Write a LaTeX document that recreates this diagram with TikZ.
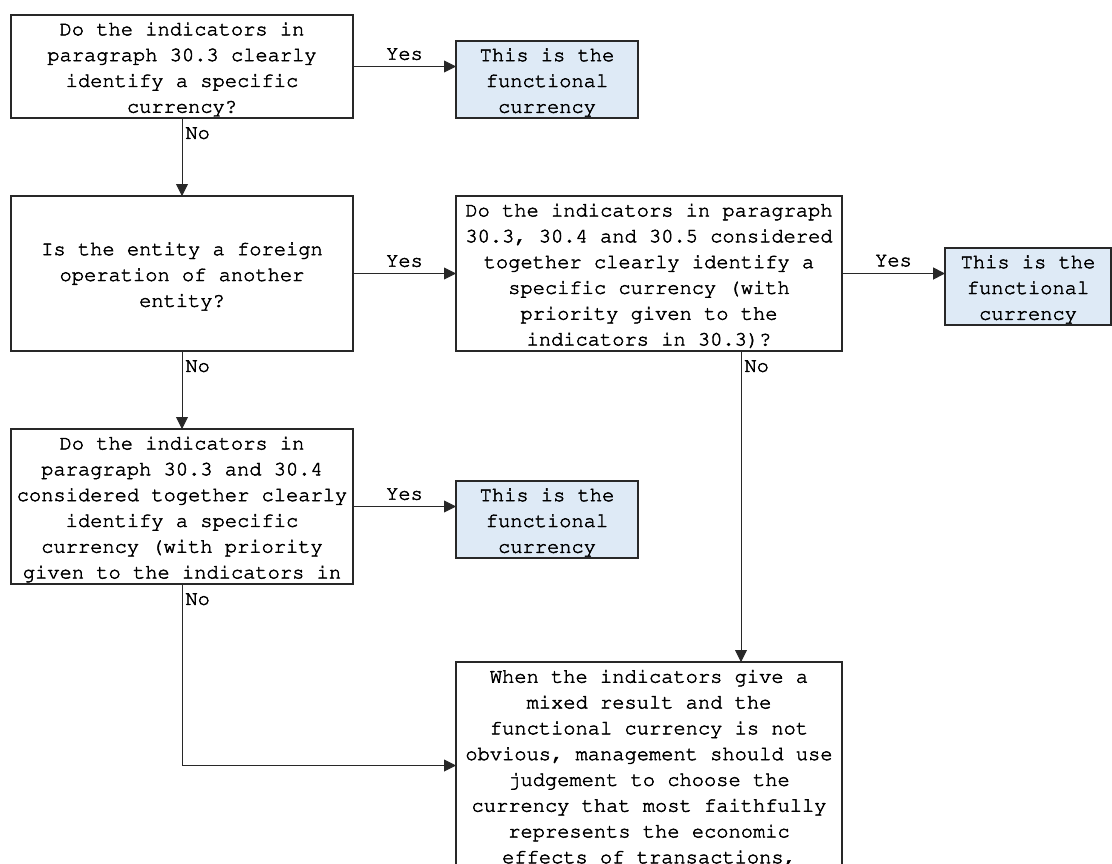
\documentclass[tikz,border=0pt]{standalone}
\usepackage[T1]{fontenc}
\usepackage{courier}
\usetikzlibrary{arrows.meta,calc}
\definecolor{lblue}{RGB}{222,234,246}
\definecolor{edge}{RGB}{40,40,40}
\newcommand{\tb}{\rule{0pt}{19pt}}
\newcommand{\bb}{\rule[-4pt]{0pt}{4pt}}
\newcommand{\emb}[1]{\special{pdf:literal direct 2 Tr 0.45 w}#1\special{pdf:literal direct 0 Tr}}
\begin{document}
\begin{tikzpicture}[x=1pt,y=-1pt,
  box/.style={draw=edge, line width=1.1pt, inner sep=0pt, outer sep=0pt, align=center,
    font=\ttfamily\fontsize{20.4pt}{25.8pt}\selectfont, anchor=north west, text=black},
  ans/.style={box, fill=lblue},
  conn/.style={draw=edge, line width=0.9pt, -{Triangle[length=12pt,width=12pt]}},
  lab/.style={font=\ttfamily\fontsize{20.4pt}{22pt}\selectfont, inner sep=1pt, text=black},
  yeslab/.style={lab, midway, anchor=south, yshift=5pt},
  nolab/.style={lab, pos=0, anchor=north west, xshift=2pt, yshift=-8pt}]
\useasboundingbox (0,0) rectangle (1112,863);
\clip (0,0) rectangle (1112,863);
\fill[white] (0,0) rectangle (1112,863);

\node[box, minimum width=342pt, minimum height=103pt] (q1) at (11,15)
  {\emb{\tb Do the indicators in}\\\emb{paragraph 30.3 clearly}\\\emb{identify a specific}\\\emb{currency?\bb}};
\node[ans, minimum width=182pt, minimum height=77pt] (a1) at (456,41)
  {\emb{\tb This is the}\\\emb{functional}\\\emb{currency\bb}};
\node[box, minimum width=342pt, minimum height=155pt] (q2) at (11,196)
  {\emb{\tb Is the entity a foreign}\\\emb{operation of another}\\\emb{entity?\bb}};
\node[box, minimum width=386pt, minimum height=155pt] (q3) at (456,196)
  {\emb{\tb Do the indicators in paragraph}\\\emb{30.3, 30.4 and 30.5 considered}\\\emb{together clearly identify a}\\\emb{specific currency (with}\\\emb{priority given to the}\\\emb{indicators in 30.3)?\bb}};
\node[ans, minimum width=166pt, minimum height=77pt] (a2) at (945,248)
  {\emb{\tb This is the}\\\emb{functional}\\\emb{currency\bb}};
\node[box, minimum width=342pt, minimum height=155pt] (q4) at (11,429)
  {\emb{\tb Do the indicators in}\\\emb{paragraph 30.3 and 30.4}\\\emb{considered together clearly}\\\emb{identify a specific}\\\emb{currency (with priority}\\\emb{given to the indicators in\bb}};
\node[ans, minimum width=182pt, minimum height=77pt] (a3) at (456,481)
  {\emb{\tb This is the}\\\emb{functional}\\\emb{currency\bb}};
\node[box, minimum width=386pt, minimum height=207pt] (r) at (456,662)
  {\emb{\tb When the indicators give a}\\\emb{mixed result and the}\\\emb{functional currency is not}\\\emb{obvious, management should use}\\\emb{judgement to choose the}\\\emb{currency that most faithfully}\\\emb{represents the economic}\\\emb{effects of transactions,\bb}};

\draw[conn] (q1.east) -- (q1.east -| a1.west) node[yeslab]{\emb{Yes}};
\draw[conn] (q1.south) -- (q2.north) node[nolab]{\emb{No}};
\draw[conn] (q2.east) -- (q2.east -| q3.west) node[yeslab]{\emb{Yes}};
\draw[conn, line width=1.8pt] (q3.east) -- (q3.east -| a2.west) node[yeslab]{\emb{Yes}};
\draw[conn] (q2.south) -- (q4.north) node[nolab]{\emb{No}};
\draw[conn] (q4.east) -- (q4.east -| a3.west) node[yeslab]{\emb{Yes}};
\coordinate (c3) at ([xshift=92pt]q3.south);
\draw[conn] (c3) -- (c3 |- r.north) node[nolab]{\emb{No}};
\draw[conn] (q4.south) |- (r.west) node[nolab]{\emb{No}};
\end{tikzpicture}
\end{document}
